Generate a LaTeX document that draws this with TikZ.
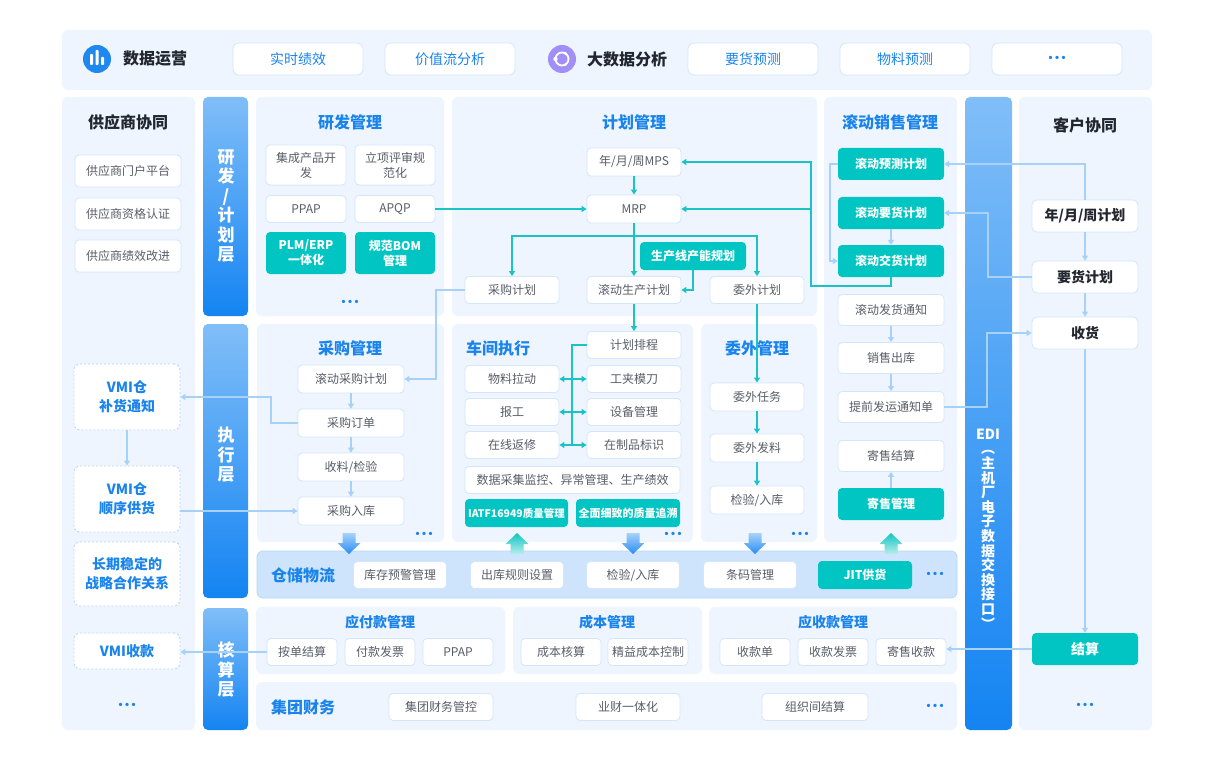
\documentclass[tikz,border=0pt]{standalone}
\usepackage{fontspec}
\setmainfont{Noto Sans CJK SC}
\usetikzlibrary{arrows.meta}
\definecolor{pbg}{HTML}{EEF5FE}
\definecolor{bbd}{HTML}{D3E6FB}
\definecolor{btx}{HTML}{585E68}
\definecolor{tblue}{HTML}{1A84EC}
\definecolor{dark}{HTML}{22262E}
\definecolor{tealf}{HTML}{00C5C2}
\definecolor{tealln}{HTML}{1CC3C5}
\definecolor{lbln}{HTML}{A8D1F8}
\definecolor{dbd}{HTML}{B9D8F8}
\definecolor{stor}{HTML}{CDE4FC}
\definecolor{storbd}{HTML}{B8D7FA}
\definecolor{lyrA}{HTML}{80BEF8}
\definecolor{lyrB}{HTML}{1484F2}
\definecolor{dnA}{HTML}{A6D2FB}
\definecolor{dnB}{HTML}{2A8CF3}
\definecolor{upA}{HTML}{12C5C2}
\definecolor{upB}{HTML}{B5EEEB}
\definecolor{icA}{HTML}{1E88F0}
\definecolor{icB}{HTML}{A18FF5}
\newcommand\mydots{·\kern-5.5pt·\kern-5.5pt·}
\tikzset{
  bx/.style 2 args={minimum width=#1pt, minimum height=#2pt},
  wb/.style={draw=bbd, line width=0.8pt, fill=white, rounded corners=4pt, text=btx,
    font=\fontsize{12}{15}\selectfont, align=center, inner sep=1pt},
  tb/.style={fill=tealf, rounded corners=4pt, text=white,
    font=\bfseries\fontsize{12}{15}\selectfont, align=center, inner sep=1pt},
  cb/.style={draw=bbd, line width=0.8pt, fill=white, rounded corners=5pt, text=dark,
    font=\bfseries\fontsize{14}{17}\selectfont, align=center, inner sep=1pt},
  topb/.style={draw=bbd, line width=0.8pt, fill=white, rounded corners=6pt, text=tblue,
    font=\fontsize{14}{16}\selectfont, align=center, inner sep=1pt},
  db/.style={draw=dbd, line width=0.9pt, dash pattern=on 2pt off 2pt, fill=white,
    rounded corners=6pt, text=tblue, font=\bfseries\fontsize{14}{19}\selectfont,
    align=center, inner sep=1pt},
  ttl/.style={text=tblue, font=\bfseries\fontsize{16}{20}\selectfont},
  dttl/.style={text=dark, font=\bfseries\fontsize{16}{20}\selectfont},
  sttl/.style={text=tblue, font=\bfseries\fontsize{14}{18}\selectfont},
  lyr/.style={text=white, font=\bfseries\fontsize{17}{19.5}\selectfont, align=center},
  dotsty/.style={text=tblue, font=\bfseries\fontsize{12}{12}\selectfont},
  tl/.style={draw=tealln, line width=1.4pt},
  lb/.style={draw=lbln, line width=1.2pt},
  arr/.style={-{Triangle[length=5pt,width=6pt]}},
  panel/.style={fill=pbg, rounded corners=6pt},
}
\begin{document}
\begin{tikzpicture}[x=1pt,y=-1pt]
\useasboundingbox (0,0) rectangle (1220,762);
\fill[white] (0,0) rectangle (1220,762);
% ---------- panels ----------
\fill[panel] (62,30) rectangle (1152,90);
\fill[panel] (62,97) rectangle (195,730);
\fill[panel] (256,97) rectangle (444,316);
\fill[panel] (452,97) rectangle (817,316);
\fill[panel] (824,97) rectangle (957,542);
\fill[panel] (1019,97) rectangle (1152,730);
\fill[panel] (257,324) rectangle (444,542);
\fill[panel] (452,324) rectangle (693,542);
\fill[panel] (701,324) rectangle (817,542);
\fill[panel] (256,607) rectangle (505,674);
\fill[panel] (513,607) rectangle (702,674);
\fill[panel] (709,607) rectangle (957,674);
\fill[panel] (256,682) rectangle (957,730);
\filldraw[fill=stor, draw=storbd, line width=0.8pt, rounded corners=6pt] (257,551) rectangle (957,598);
% layer bars
\shade[rounded corners=5pt, top color=lyrA, bottom color=lyrB] (203,97) rectangle (248,316);
\shade[rounded corners=5pt, top color=lyrA, bottom color=lyrB] (203,324) rectangle (248,598);
\shade[rounded corners=5pt, top color=lyrA, bottom color=lyrB] (203,608) rectangle (248,730);
\shade[rounded corners=5pt, top color=lyrA, bottom color=lyrB] (965,97) rectangle (1012,730);
\node[lyr] (L1) at (226,206) {研\\发\\/\\计\\划\\层};
\node[lyr] (L2) at (226,455) {执\\行\\层};
\node[lyr] (L3) at (226,670) {核\\算\\层};
\node[lyr, font=\bfseries\fontsize{14}{14.6}\selectfont] (L4) at (988,529)
  {EDI\\︵\\主\\机\\厂\\电\\子\\数\\据\\交\\换\\接\\口\\︶};
% ---------- top band ----------
\fill[icA] (97,59) circle (14);
\fill[white, rounded corners=0.8pt] (90,54) rectangle (93,65);
\fill[white, rounded corners=0.8pt] (95.5,50) rectangle (98.5,65);
\fill[white, rounded corners=0.8pt] (101,57) rectangle (104,65);
\node[dttl] (tdata) at (155,59) {数据运营};
\node[topb, bx={130}{32}] (k1) at (298,59) {实时绩效};
\node[topb, bx={130}{32}] (k2) at (450,59) {价值流分析};
\fill[icB] (562,59) circle (14);
\draw[white, line width=1.8pt] (562,59) circle (6.5);
\fill[white] (555.5,59) circle (2.2);
\fill[white] (565.5,53.5) circle (1.6);
\fill[white] (565.5,64.5) circle (1.6);
\node[dttl] (tbig) at (627,59) {大数据分析};
\node[topb, bx={130}{32}] (k3) at (753,59) {要货预测};
\node[topb, bx={130}{32}] (k4) at (905,59) {物料预测};
\node[topb, bx={130}{32}, font=\bfseries\fontsize{12}{14}\selectfont] (k5) at (1057,59) {\mydots};
% ---------- supplier ----------
\node[dttl] (tsup) at (128,122) {供应商协同};
\node[wb, bx={106}{32}] (sp1) at (128,171) {供应商门户平台};
\node[wb, bx={106}{32}] (sp2) at (128,214) {供应商资格认证};
\node[wb, bx={106}{32}] (sp3) at (128,256) {供应商绩效改进};
\node[db, bx={106}{66}] (vmi1) at (127,397) {VMI仓\\补货通知};
\node[db, bx={106}{66}] (vmi2) at (127,499) {VMI仓\\顺序供货};
\node[db, bx={106}{64}] (vmi3) at (127,574) {长期稳定的\\战略合作关系};
\node[db, bx={106}{36}] (vmi4) at (127,651) {VMI收款};
\node[dotsty] (dsup) at (127,706) {\mydots};
% ---------- R&D ----------
\node[ttl] (trd) at (350,122) {研发管理};
\node[wb, bx={80}{40}] (rd1) at (306,165) {集成产品开\\发};
\node[wb, bx={80}{40}] (rd2) at (395,165) {立项评审规\\范化};
\node[wb, bx={80}{27}] (rd3) at (306,209) {PPAP};
\node[wb, bx={80}{27}] (rd4) at (395,209) {APQP};
\node[tb, bx={80}{42}] (rd5) at (306,253) {PLM/ERP\\一体化};
\node[tb, bx={80}{42}] (rd6) at (395,253) {规范BOM\\管理};
\node[dotsty] (drd) at (350,303) {\mydots};
% ---------- planning ----------
\node[ttl] (tpl) at (634,122) {计划管理};
\node[wb, bx={94}{28}] (mps) at (634,162) {年/月/周MPS};
\node[wb, bx={94}{28}] (mrp) at (634,209) {MRP};
\node[tb, bx={106}{28}] (cap) at (693,256) {生产线产能规划};
\node[wb, bx={94}{27}] (pp) at (512,290) {采购计划};
\node[wb, bx={94}{27}] (rp) at (634,290) {滚动生产计划};
\node[wb, bx={94}{27}] (op) at (757,290) {委外计划};
% ---------- sales ----------
\node[ttl] (tsl) at (890,122) {滚动销售管理};
\node[tb, bx={106}{32}] (s1) at (891,164) {滚动预测计划};
\node[tb, bx={106}{32}] (s2) at (891,213) {滚动要货计划};
\node[tb, bx={106}{32}] (s3) at (891,261) {滚动交货计划};
\node[wb, bx={106}{31}] (s4) at (891,310) {滚动发货通知};
\node[wb, bx={106}{31}] (s5) at (891,358) {销售出库};
\node[wb, bx={106}{31}] (s6) at (891,407) {提前发运通知单};
\node[wb, bx={106}{31}] (s7) at (891,456) {寄售结算};
\node[tb, bx={106}{32}] (s8) at (891,504) {寄售管理};
% ---------- customer ----------
\node[dttl] (tcu) at (1085,125) {客户协同};
\node[cb, bx={106}{32}] (c1) at (1085,216) {年/月/周计划};
\node[cb, bx={106}{32}] (c2) at (1085,277) {要货计划};
\node[cb, bx={106}{32}] (c3) at (1085,333) {收货};
\node[tb, bx={106}{32}, font=\bfseries\fontsize{14}{17}\selectfont] (c4) at (1085,649) {结算};
\node[dotsty] (dcu) at (1085,706) {\mydots};
% ---------- purchasing ----------
\node[ttl] (tpm) at (350,348) {采购管理};
\node[wb, bx={106}{28}] (pm1) at (351,379) {滚动采购计划};
\node[wb, bx={106}{28}] (pm2) at (351,423) {采购订单};
\node[wb, bx={106}{28}] (pm3) at (351,467) {收料/检验};
\node[wb, bx={106}{28}] (pm4) at (351,511) {采购入库};
\node[dotsty] (dpm) at (424,535) {\mydots};
% ---------- shop floor ----------
\node[ttl] (tsf) at (498,348) {车间执行};
\node[wb, bx={94}{27}] (sf1) at (634,345) {计划排程};
\node[wb, bx={94}{27}] (sf2) at (634,379) {工夹模刀};
\node[wb, bx={94}{27}] (sf3) at (634,412) {设备管理};
\node[wb, bx={94}{27}] (sf4) at (634,445) {在制品标识};
\node[wb, bx={94}{27}] (sl1) at (512,379) {物料拉动};
\node[wb, bx={94}{27}] (sl2) at (512,412) {报工};
\node[wb, bx={94}{27}] (sl3) at (512,445) {在线返修};
\node[wb, bx={215}{27}] (sd) at (572.5,480) {数据采集监控、异常管理、生产绩效};
\node[tb, bx={103}{28}, font=\bfseries\fontsize{10.5}{13}\selectfont] (q1) at (516.5,513) {IATF16949质量管理};
\node[tb, bx={104}{28}, font=\bfseries\fontsize{11}{13}\selectfont] (q2) at (628,513) {全面细致的质量追溯};
\node[dotsty] (dsf) at (673,535) {\mydots};
% ---------- outsourcing ----------
\node[ttl] (tos) at (757,348) {委外管理};
\node[wb, bx={94}{28}] (o1) at (757,397) {委外任务};
\node[wb, bx={94}{28}] (o2) at (757,448) {委外发料};
\node[wb, bx={94}{28}] (o3) at (757,500) {检验/入库};
\node[dotsty] (dos) at (800,535) {\mydots};
% ---------- warehouse ----------
\node[ttl] (twh) at (303,575) {仓储物流};
\node[wb, bx={93}{27}] (w1) at (400,575) {库存预警管理};
\node[wb, bx={93}{27}] (w2) at (517,575) {出库规则设置};
\node[wb, bx={93}{27}] (w3) at (633,575) {检验/入库};
\node[wb, bx={93}{27}] (w4) at (750,575) {条码管理};
\node[tb, bx={94}{28}] (w5) at (865,575) {JIT供货};
\node[dotsty] (dwh) at (935,575) {\mydots};
% block arrows
\foreach \ax in {349,633,755}{
  \shade[top color=dnA, bottom color=dnB] (\ax-6.5,533) -- (\ax+6.5,533) -- (\ax+6.5,543)
    -- (\ax+11.5,543) -- (\ax,554) -- (\ax-11.5,543) -- (\ax-6.5,543) -- cycle;
}
\foreach \ax in {517,891}{
  \shade[top color=upA, bottom color=upB] (\ax,533) -- (\ax+11.5,544) -- (\ax+6.5,544)
    -- (\ax+6.5,554) -- (\ax-6.5,554) -- (\ax-6.5,544) -- (\ax-11.5,544) -- cycle;
}
% ---------- accounting ----------
\node[sttl] (tap) at (380,622) {应付款管理};
\node[wb, bx={70}{27}] (a1) at (302,652) {按单结算};
\node[wb, bx={70}{27}] (a2) at (380,652) {付款发票};
\node[wb, bx={70}{27}] (a3) at (458,652) {PPAP};
\node[sttl] (tco) at (607,622) {成本管理};
\node[wb, bx={80}{27}] (b1) at (561,652) {成本核算};
\node[wb, bx={80}{27}] (b2) at (648,652) {精益成本控制};
\node[sttl] (tar) at (833,622) {应收款管理};
\node[wb, bx={70}{27}] (r1) at (755,652) {收款单};
\node[wb, bx={70}{27}] (r2) at (833,652) {收款发票};
\node[wb, bx={70}{27}] (r3) at (911,652) {寄售收款};
\node[ttl] (tgf) at (303,707) {集团财务};
\node[wb, bx={104}{27}] (g1) at (441,707) {集团财务管控};
\node[wb, bx={104}{27}] (g2) at (628,707) {业财一体化};
\node[wb, bx={106}{27}] (g3) at (815,707) {组织间结算};
\node[dotsty] (dgf) at (935,707) {\mydots};
% ---------- teal connectors ----------
\draw[tl,arr] (rd4.east) -- (mrp.west);
\draw[tl,arr] (mps.south) -- (mrp.north);
\draw[tl,arr] (mrp.south) -- (rp.north);
\coordinate (br) at (634,236);
\draw[tl,arr] (br) -| (pp.north);
\draw[tl,arr] (br) -| (op.north);
\draw[tl,arr] (cap.south) |- (rp.east);
\coordinate (j1) at (811,286);
\draw[tl,arr] (s3.south) |- (j1) |- (mps.east);
\draw[tl,arr] (j1 |- mrp.east) -- (mrp.east);
\draw[tl,arr] (rp.south) -- (sf1.north);
\draw[tl,arr] (op.south) -- (o1.north);
\draw[tl,arr] (o1.south) -- (o2.north);
\draw[tl,arr] (o2.south) -- (o3.north);
\coordinate (v1) at (572,345);
\draw[tl] (sf1.west) -- (v1) -- (v1 |- sf4.west);
\foreach \la/\rb in {sl1/sf2, sl2/sf3, sl3/sf4}{
  \draw[tl,arr] (v1 |- \rb.west) -- (\la.east);
  \draw[tl,arr] (v1 |- \rb.west) -- (\rb.west);
}
% ---------- light blue connectors ----------
\coordinate (pj) at (436,290);
\draw[lb,arr] (pp.west) -- (pj) |- (pm1.east);
\draw[lb,arr] (pm1.south) -- (pm2.north);
\draw[lb,arr] (pm2.south) -- (pm3.north);
\draw[lb,arr] (pm3.south) -- (pm4.north);
\coordinate (vj) at (271,423);
\draw[lb,arr] (pm2.west) -- (vj) |- (vmi1.east);
\draw[lb,arr] (vmi1.south) -- (vmi2.north);
\draw[lb,arr] (vmi2.east |- pm4.west) -- (pm4.west);
\draw[lb,arr] (a1.west) -- (vmi4.east |- a1.west);
\coordinate (sj) at (830,164);
\draw[lb,arr] (s1.west) -- (sj) |- (s3.west);
\draw[lb,arr] (s2.south) -- (s3.north);
\draw[lb,arr] (s4.south) -- (s5.north);
\draw[lb,arr] (s5.south) -- (s6.north);
\draw[lb,arr] (s8.north) -- (s7.south);
\draw[lb,arr] (c1.north) |- (s1.east);
\coordinate (cj) at (988,277);
\draw[lb,arr] (c2.west) -- (cj) |- (s2.east);
\draw[lb,arr] (c1.south) -- (c2.north);
\draw[lb,arr] (c2.south) -- (c3.north);
\draw[lb,arr] (c3.south) -- (c4.north);
\coordinate (ej) at (987,407);
\draw[lb,arr] (s6.east) -- (ej) |- (c3.west);
\draw[lb,arr] (c4.west) -- (r3.east |- c4.west);
\end{tikzpicture}
\end{document}
